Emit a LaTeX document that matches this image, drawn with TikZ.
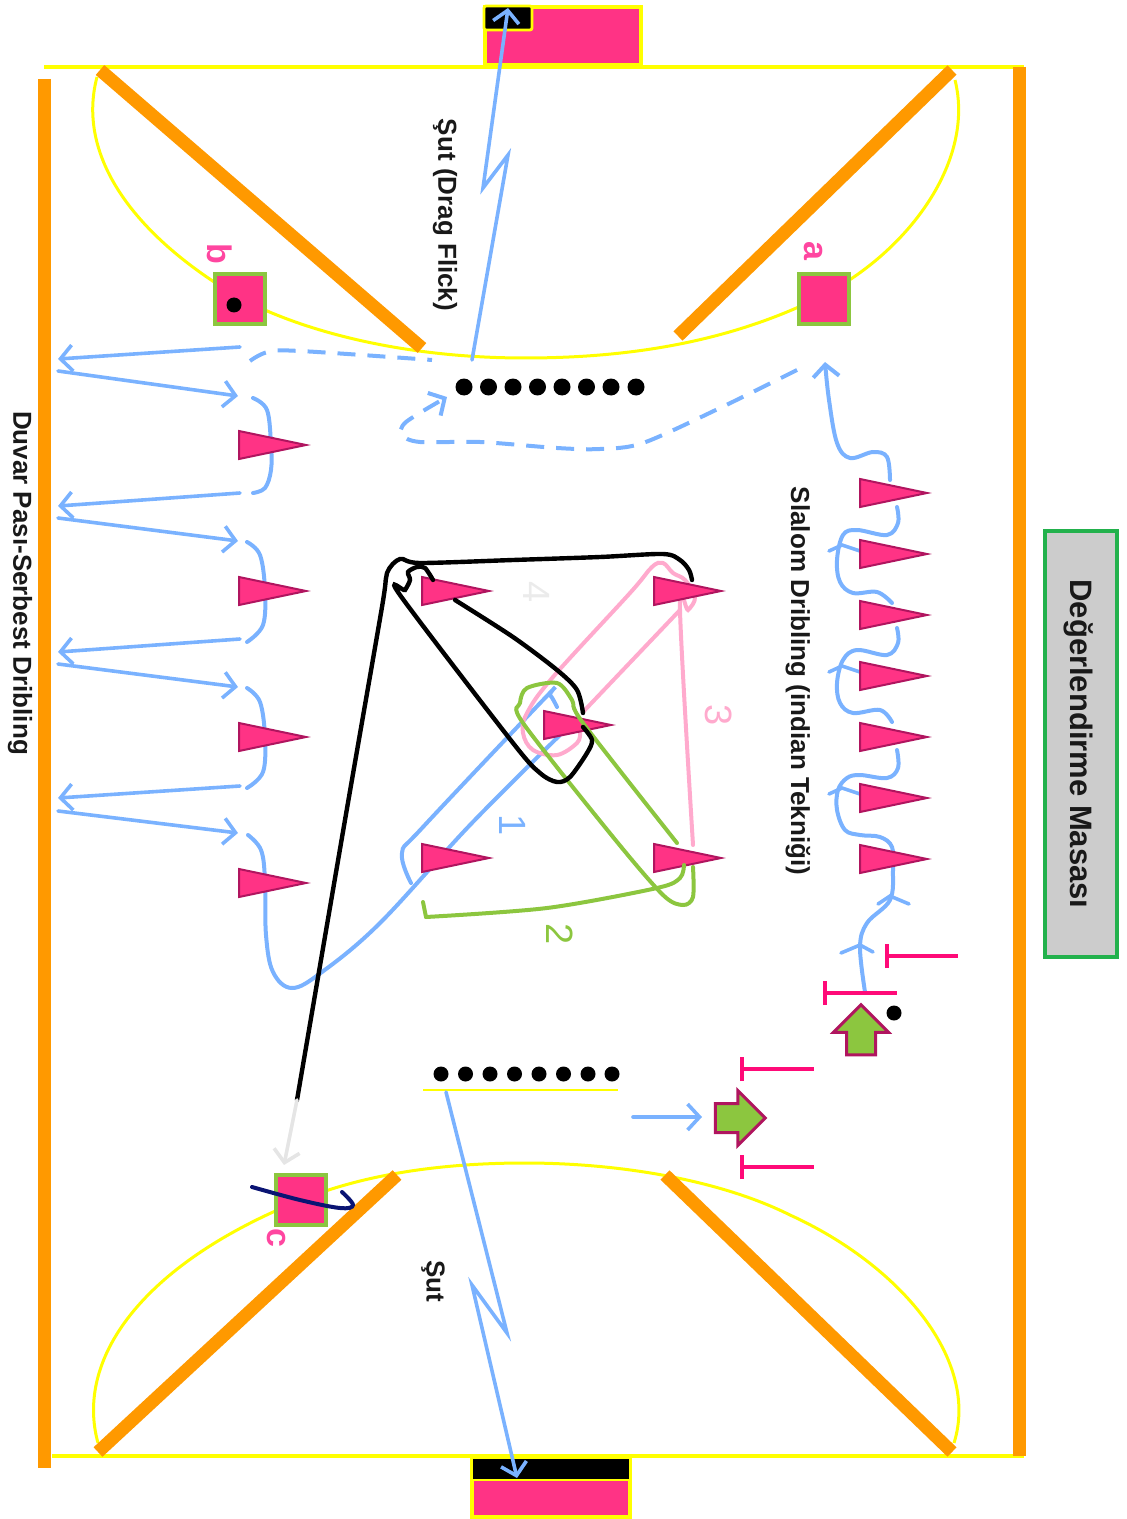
\documentclass[tikz,border=0pt]{standalone}
\usepackage{fontspec}
\setmainfont{Liberation Sans}
\usetikzlibrary{shapes.geometric, shapes.arrows, arrows.meta}
\definecolor{cyellow}{RGB}{255,255,0}
\definecolor{corange}{RGB}{255,153,0}
\definecolor{cblue}{RGB}{122,178,255}
\definecolor{cpink}{RGB}{255,51,133}
\definecolor{cdark}{RGB}{176,21,95}
\definecolor{cgreen}{RGB}{140,198,63}
\definecolor{chot}{RGB}{255,10,120}
\definecolor{cpale}{RGB}{255,170,205}
\definecolor{clabel}{RGB}{255,70,160}
\definecolor{cnavy}{RGB}{10,20,115}
\definecolor{ctable}{RGB}{34,177,76}
\tikzstyle{barrier} = [line width=6.5pt, draw=corange]
\tikzstyle{circleline} = [line width=1.5pt, draw=cyellow]
\tikzstyle{fieldline} = [line width=2.2pt, draw=cyellow]
\tikzstyle{goal} = [rectangle, draw=cyellow, line width=2pt, fill=cpink, inner sep=0pt]
\tikzstyle{goalblack} = [rectangle, draw=cyellow, line width=1.4pt, fill=black, inner sep=0pt]
\tikzstyle{corner} = [rectangle, draw=cgreen, line width=2pt, fill=cpink, minimum width=25pt, minimum height=25pt, inner sep=0pt]
\tikzstyle{cone} = [isosceles triangle, isosceles triangle stretches, shape border rotate=0, draw=cdark, line width=1pt, fill=cpink, minimum width=14pt, minimum height=33.5pt, inner sep=0pt, anchor=lower side]
\tikzstyle{ball} = [circle, fill=black, minimum size=8.5pt, inner sep=0pt]
\tikzstyle{smallball} = [circle, fill=black, minimum size=7.5pt, inner sep=0pt]
\tikzstyle{player} = [single arrow, draw=cdark, line width=1.5pt, fill=cgreen, minimum height=25pt, single arrow head extend=6.5pt, inner xsep=0pt, inner ysep=6.5pt]
\tikzstyle{pass} = [line width=1.8pt, draw=cblue, line cap=round]
\tikzstyle{arrow} = [pass, -{Straight Barb[length=6pt,width=13pt]}]
\tikzstyle{dribble} = [line width=2pt, draw=cblue, line cap=round]
\tikzstyle{run} = [line width=2pt, draw=cblue, dash pattern=on 9pt off 6pt]
\tikzstyle{runpink} = [line width=2pt, draw=cpale, line cap=round]
\tikzstyle{rungreen} = [line width=2pt, draw=cgreen, line cap=round]
\tikzstyle{runblack} = [line width=2.2pt, draw=black, line cap=round]
\tikzstyle{tbar} = [line width=2pt, draw=chot, {Bar[width=12pt,line width=2pt]}-]
\tikzstyle{caption} = [rotate=-90, font=\fontsize{13}{15}\selectfont\bfseries, text=black!90]
\tikzstyle{letter} = [rotate=-90, font=\fontsize{17}{19}\selectfont\bfseries, text=clabel]
\tikzstyle{number} = [rotate=-90, font=\fontsize{19}{21}\selectfont]
\begin{document}
\begin{tikzpicture}
[x=0.5pt,y=-0.5pt]
\useasboundingbox (0,0) rectangle (1126,1519);

% goals
\node (goaltop) [goal, minimum width=78pt, minimum height=29pt] at (562.5,36) {};
\node (nettop) [goalblack, minimum width=24pt, minimum height=12pt, rounded corners=1pt] at (508,18) {};
\node (goalbottom) [goal, minimum width=79pt, minimum height=30pt] at (551,1487) {};
\node (netbottom) [goalblack, minimum width=79pt, minimum height=11pt] at (551,1469) {};

% field
\draw [fieldline] (44,67) -- (1024,67);
\draw [fieldline] (52,1456) -- (1024,1456);
\draw [circleline] (97,77) .. controls (75,160) and (140,240) .. (240,298) .. controls (300,330) and (400,358) .. (525,358) .. controls (650,358) and (745,335) .. (824,295) .. controls (910,250) and (975,160) .. (955,80);
\draw [circleline] (98,1443) .. controls (75,1360) and (140,1265) .. (301,1200) .. controls (370,1172) and (450,1163) .. (525,1163) .. controls (620,1163) and (720,1180) .. (790,1215) .. controls (900,1265) and (980,1360) .. (954,1443);
\draw [barrier] (44,79) -- (44,1468);
\draw [barrier] (1019,67) -- (1019,1456);
\draw [barrier] (100,70) -- (422,348);
\draw [barrier] (952,70) -- (678,336);
\draw [barrier] (397,1175) -- (98,1452);
\draw [barrier] (665,1175) -- (952,1452);
\draw [circleline, line width=1pt] (423,1090) -- (618,1090);

% corners
\node (corna) [corner] at (824,299) {};
\node (cornb) [corner] at (240,299) {};
\node (cornc) [corner] at (301,1200) {};
\node (balla) [smallball] at (234,305) {};
\node (labela) [letter] at (813,251) {a};
\node (labelb) [letter] at (220,254) {b};
\node (labelc) [letter] at (276,1238) {c};

% table
\node (table) [rectangle, draw=ctable, line width=2pt, fill=black!20, minimum width=36pt, minimum height=213pt, inner sep=0pt] at (1080.5,743.5) {};
\node (tabletext) [caption, font=\fontsize{15.5}{17}\selectfont\bfseries] at (1079,744) {Değerlendirme Masası};

% slalom dribble
\draw [dribble] plot [smooth,tension=0.6] coordinates {(865,992) (860,947) (867,923) (890,900) (893,870) (892,847) (880,837) (860,835) (845,830) (837,810) (838,790) (847,778) (860,775) (887,778) (898,768) (897,750)};
\draw [dribble] plot [smooth,tension=0.6] coordinates {(892,722) (880,710) (853,713) (840,703) (837,683) (843,660) (857,650) (887,655) (898,643) (897,628)};
\draw [dribble] plot [smooth,tension=0.6] coordinates {(892,603) (877,592) (853,593) (840,582) (837,560) (843,535) (857,530) (887,535) (898,523) (897,507)};
\draw [arrow, line width=2pt] plot [smooth,tension=0.6] coordinates {(890,480) (887,457) (873,452) (850,458) (837,443) (829,400) (825,362)};
\draw [pass] (841,953) -- (860,945) -- (873,952);
\draw [pass] (878,904) -- (890,896) -- (909,904);
\draw [pass] (829,551) -- (842,545) -- (860,551);
\draw [pass] (829,672) -- (842,666) -- (860,672);
\draw [pass] (829,794) -- (842,788) -- (860,794);

% wall passes
\draw [arrow] (240,347) -- (58,359);
\draw [arrow] (58,371) -- (238,396);
\draw [arrow] (240,493) -- (58,506);
\draw [arrow] (58,518) -- (238,541);
\draw [arrow] (240,639) -- (58,652);
\draw [arrow] (58,664) -- (238,687);
\draw [arrow] (240,786) -- (58,798);
\draw [arrow] (58,811) -- (238,833);
\draw [dribble] plot [smooth,tension=0.6] coordinates {(253,398) (267,410) (271,445) (271,470) (265,488) (253,493)};
\draw [dribble] plot [smooth,tension=0.6] coordinates {(247,542) (260,555) (265,590) (263,625) (247,642)};
\draw [dribble] plot [smooth,tension=0.6] coordinates {(247,688) (260,702) (265,737) (263,772) (247,788)};
\draw [dribble] plot [smooth,tension=0.6] coordinates {(248,835) (261,850) (265,880) (266,935) (273,972) (292,988) (322,972) (380,923) (470,825) (560,735)};
\draw [dribble] plot [smooth,tension=0.6] coordinates {(557,707) (550,695) (545,698) (423,827) (402,853) (411,883)};

% run back
\draw [run] plot [smooth,tension=0.6] coordinates {(250,361) (268,352) (300,351) (432,360)};
\draw [run, -{Straight Barb[length=6pt,width=13pt]}] plot [smooth,tension=0.5] coordinates {(797,370) (720,408) (643,443) (600,449) (557,448) (480,442) (420,442) (402,435) (406,422) (447,397)};

% pink run under the cones
\draw [runpink] plot [smooth,tension=0.6] coordinates {(693,845) (680,610) (688,610) (695,597) (685,580) (673,573) (663,563) (652,567) (630,593) (553,677) (527,713) (523,733) (533,750) (557,755) (577,743) (580,733)};
\draw [runpink] (583,712) -- (680,610);

% cones
\node (cone1) [cone] at (238,445) {};
\node (cone2) [cone] at (238,591) {};
\node (cone3) [cone] at (238,737) {};
\node (cone4) [cone] at (238,883) {};
\node (cone5) [cone] at (421,591) {};
\node (cone6) [cone] at (653,591) {};
\node (cone7) [cone] at (543,725) {};
\node (cone8) [cone] at (421,858) {};
\node (cone9) [cone] at (653,858) {};
\node (cone10) [cone] at (859,493) {};
\node (cone11) [cone] at (859,554) {};
\node (cone12) [cone] at (859,615) {};
\node (cone13) [cone] at (859,676) {};
\node (cone14) [cone] at (859,737) {};
\node (cone15) [cone] at (859,798) {};
\node (cone16) [cone] at (859,859) {};

% green and black runs
\draw [rungreen] (423,902) -- (426,917);
\draw [rungreen] plot [smooth,tension=0.5] coordinates {(426,917) (547,908) (657,888) (680,878) (684,865)};
\draw [rungreen] plot [smooth,tension=0.5] coordinates {(693,867) (693,897) (683,905) (663,895) (613,837) (523,723) (520,703) (527,688) (557,683) (572,700) (583,723) (677,843)};
\draw [runblack] plot [smooth,tension=0.5] coordinates {(455,600) (513,637) (557,670) (577,690) (583,713)};
\draw [runblack] plot [smooth,tension=0.5] coordinates {(583,727) (592,740) (587,753) (570,777) (557,782) (540,773) (513,743) (400,595) (405,590) (410,580) (408,572) (417,567) (425,568) (433,580)};
\draw [runblack] plot [smooth,tension=0.5] coordinates {(297,1100) (345,820) (382,607) (387,573) (400,559) (420,563) (513,560) (600,557) (663,554) (680,560) (689,570) (692,580)};
\draw [arrow, draw=black!10] (297,1100) -- (284,1165);
\draw [line width=2pt, draw=cnavy, line cap=round] plot [smooth,tension=0.6] coordinates {(252,1187) (300,1200) (340,1208) (353,1205) (342,1192)};

% shots
\draw [arrow] (472,360) -- (508,155) -- (483,188) -- (508,8);
\draw [arrow] (446,1092) -- (507,1333) -- (472,1285) -- (517,1478);
\draw [arrow] (633,1117) -- (702,1117);

% balls
\node (top1) [ball] at (464,387) {};
\node (top2) [ball] at (488.5,387) {};
\node (top3) [ball] at (513,387) {};
\node (top4) [ball] at (537.5,387) {};
\node (top5) [ball] at (562,387) {};
\node (top6) [ball] at (586.5,387) {};
\node (top7) [ball] at (611,387) {};
\node (top8) [ball] at (636,387) {};
\node (bot1) [smallball] at (441,1074) {};
\node (bot2) [smallball] at (465.5,1074) {};
\node (bot3) [smallball] at (490,1074) {};
\node (bot4) [smallball] at (514.5,1074) {};
\node (bot5) [smallball] at (539,1074) {};
\node (bot6) [smallball] at (563.5,1074) {};
\node (bot7) [smallball] at (588,1074) {};
\node (bot8) [smallball] at (612,1074) {};
\node (ballstart) [smallball] at (894,1013) {};

% players and poles
\node (playerup) [player, rotate=90] at (861,1037) {};
\node (playerright) [player] at (733,1118) {};
\draw [tbar] (885,956) -- (958,956);
\draw [tbar] (823,993) -- (897,993);
\draw [tbar] (740,1069) -- (814,1069);
\draw [tbar] (740,1167) -- (814,1167);

% texts
\node (textshot) [caption] at (445,215) {Şut (Drag Flick)};
\node (textwall) [caption] at (20,583) {Duvar Pası-Serbest Dribling};
\node (textslalom) [caption] at (798,681) {Slalom Dribling (indian Tekniği)};
\node (textsut) [caption] at (433,1281) {Şut};
\node (num1) [number, text=cblue] at (513,825) {1};
\node (num2) [number, text=cgreen] at (560,934) {2};
\node (num3) [number, text=cpale] at (719,715) {3};
\node (num4) [number, text=black!8] at (537,592) {4};
\end{tikzpicture}
\end{document}
